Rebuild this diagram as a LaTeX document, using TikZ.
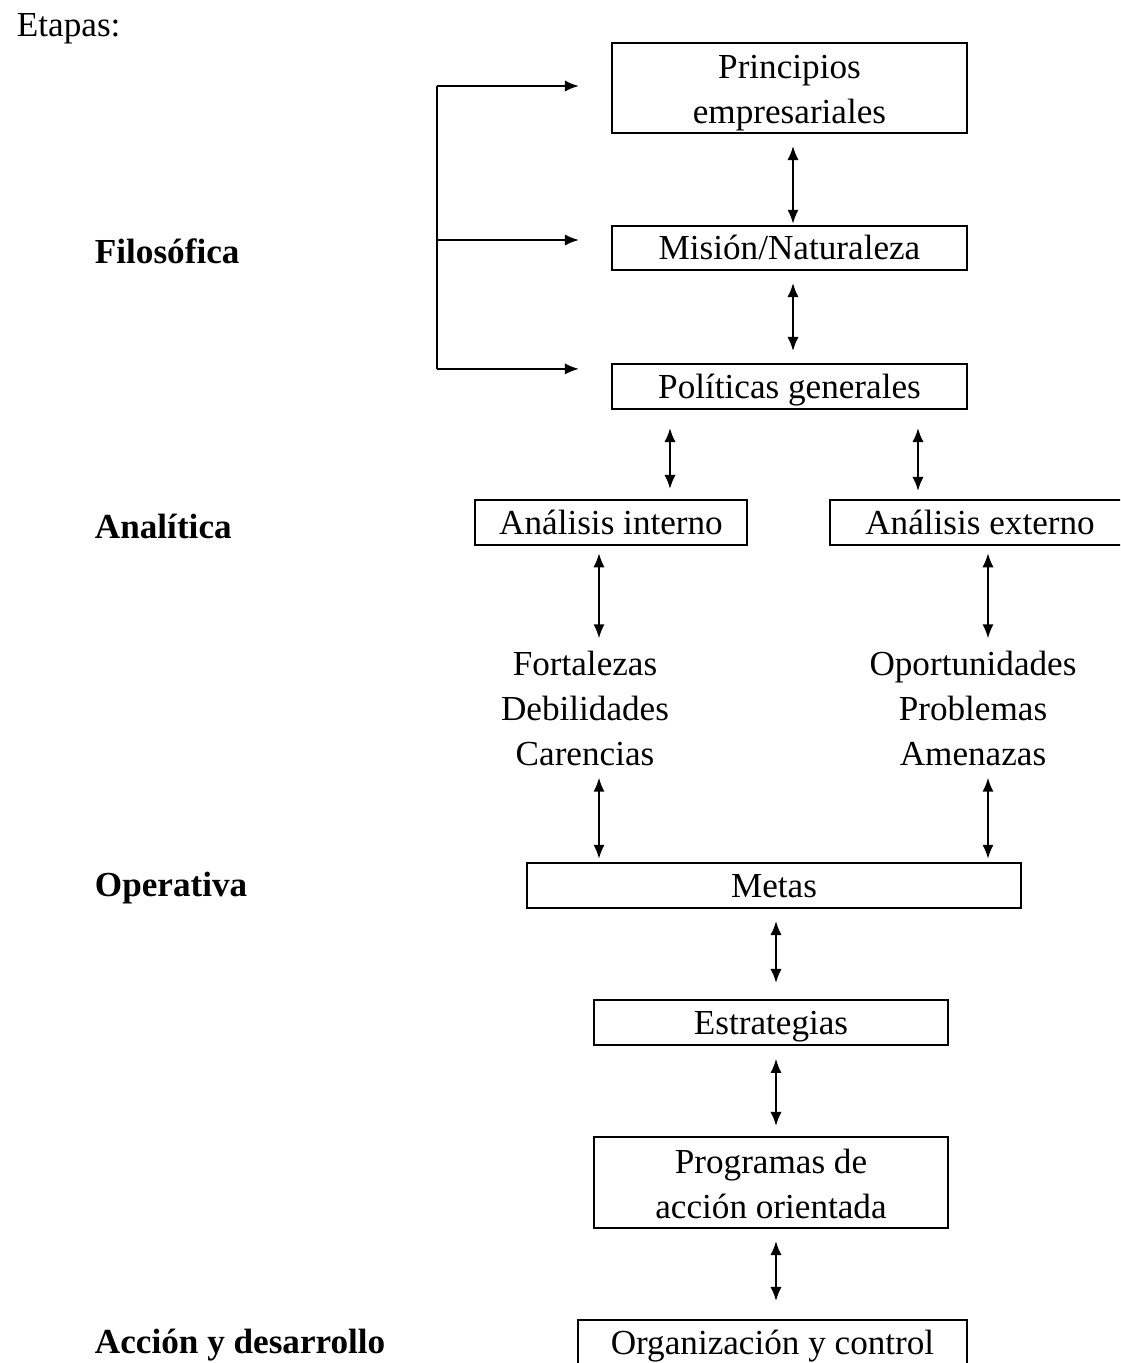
\documentclass[tikz,border=0pt]{standalone}
\usepackage{fontspec}
\setmainfont{Liberation Serif}
\usetikzlibrary{arrows.meta}

\begin{document}
\begin{tikzpicture}[x=0.025cm, y=-0.025cm, font=\fontsize{25}{32}\selectfont,
    >={Latex[length=10pt,width=8pt]},
    caja/.style = {draw, line width=1.4pt, inner sep=0pt, minimum height=1.125cm, align=center, text height=56pt, text depth=5pt},
    linea/.style = {caja, text height=22pt},
    flecha/.style = {<->, line width=1.4pt, shorten <=0.3cm, shorten >=0.3cm},
    rama/.style = {->, line width=1.4pt},
    etapa/.style = {anchor=west, font=\fontsize{25}{32}\selectfont\bfseries}]
    % Fix the frame
    \clip (0,0) rectangle (1120,1363);
    \fill[white] (0,0) rectangle (1120,1363);
    % Stage labels on the left
    \node[anchor=west] (etapas) at (12,29) {Etapas:};
    \node[etapa] (filo) at (90,251) {Filosófica};
    \node[etapa] (anali) at (90,526) {Analítica};
    \node[etapa] (opera) at (90,888) {Operativa};
    \node[etapa] (accion) at (90,1345) {Acción y desarrollo};
    % Draw the boxes
    \node[caja, minimum width=8.875cm, minimum height=2.25cm] (princ) at (789.5,88) {Principios\\empresariales};
    \node[linea, minimum width=8.875cm, minimum height=1.1cm] (mision) at (789.5,248) {Misión/Naturaleza};
    \node[linea, minimum width=8.875cm] (polit) at (789.5,386.5) {Políticas generales};
    \node[linea, minimum width=6.8cm] (interno) at (611,522.5) {Análisis interno};
    \node[linea, minimum width=7.5cm] (externo) at (980,522.5) {Análisis externo};
    \node[align=center, inner sep=0pt] (fort) at (585,708) {Fortalezas\\Debilidades\\Carencias};
    \node[align=center, inner sep=0pt] (oport) at (973,708) {Oportunidades\\Problemas\\Amenazas};
    \node[linea, minimum width=12.35cm] (metas) at (774,885.5) {Metas};
    \node[linea, minimum width=8.85cm] (estrat) at (771,1022.5) {Estrategias};
    \node[caja, minimum width=8.85cm, minimum height=2.275cm] (progr) at (771,1182.5) {Programas de\\acción orientada};
    \node[linea, minimum width=9.725cm] (organ) at (772.5,1342.5) {Organización y control};
    % Bracket into the philosophical stage
    \draw[line width=1.4pt] ([xshift=-4.35cm,yshift=0.05cm]princ.west) -- ([xshift=-4.35cm,yshift=0.44cm]polit.west);
    \draw[rama] ([xshift=-4.35cm,yshift=0.05cm]princ.west) -- ([xshift=-0.8cm,yshift=0.05cm]princ.west);
    \draw[rama] ([xshift=-4.35cm,yshift=0.2cm]mision.west) -- ([xshift=-0.8cm,yshift=0.2cm]mision.west);
    \draw[rama] ([xshift=-4.35cm,yshift=0.44cm]polit.west) -- ([xshift=-0.8cm,yshift=0.44cm]polit.west);
    % Draw the double arrows
    \draw[flecha, shorten >=0.03cm] (princ.south -| 793,0) -- (mision.north -| 793,0);
    \draw[flecha] (mision.south -| 793,0) -- (polit.north -| 793,0);
    \draw[flecha, shorten <=0.45cm, shorten >=0.25cm] (polit.south -| 670,0) -- (interno.north -| 670,0);
    \draw[flecha, shorten <=0.45cm, shorten >=0.2cm] (polit.south -| 918,0) -- (externo.north -| 918,0);
    \draw[flecha, shorten <=0.18cm] (interno.south -| 599,0) -- (fort.north -| 599,0);
    \draw[flecha, shorten <=0.18cm] (externo.south -| 988,0) -- (oport.north -| 988,0);
    \draw[flecha, shorten >=0.08cm] (fort.south -| 599,0) -- (metas.north -| 599,0);
    \draw[flecha, shorten >=0.08cm] (oport.south -| 988,0) -- (metas.north -| 988,0);
    \draw[flecha, shorten >=0.4cm] (metas.south -| 776,0) -- (estrat.north -| 776,0);
    \draw[flecha, shorten <=0.32cm, shorten >=0.25cm] (estrat.south -| 776,0) -- (progr.north -| 776,0);
    \draw[flecha, shorten >=0.45cm] (progr.south -| 776,0) -- (organ.north -| 776,0);
\end{tikzpicture}
\end{document}
